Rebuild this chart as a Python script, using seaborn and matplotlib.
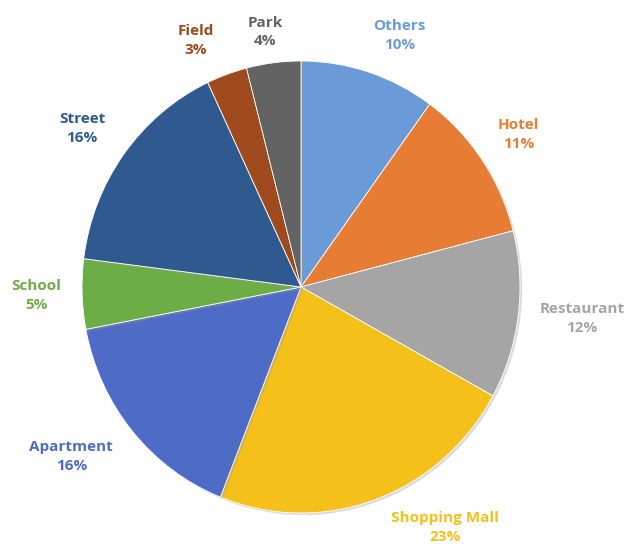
import numpy as np
import matplotlib
matplotlib.use("Agg")
import matplotlib.pyplot as plt
import matplotlib.patheffects as pe
import seaborn as sns

# Share of locations (percent), clockwise from 12 o'clock
categories = ["Others", "Hotel", "Restaurant", "Shopping Mall", "Apartment",
              "School", "Street", "Field", "Park"]
shares = [10, 11, 12, 23, 16, 5, 16, 3, 4]
slice_colors = ["#6A9BD8", "#E77D35", "#A5A5A5", "#F6C01B", "#4E6CC6",
                "#6DAD45", "#2F5A8F", "#9E4A1C", "#636363"]

sns.set_theme(style="white")
plt.rcParams["font.family"] = ["Open Sans", "DejaVu Sans"]

fig = plt.figure(figsize=(6.25, 5.5), dpi=100)
ax = fig.add_axes([0, 0, 1, 1])
palette = sns.color_palette(slice_colors)

wedges, _ = ax.pie(shares, colors=palette, startangle=90, counterclock=False,
                   wedgeprops=dict(edgecolor="white", linewidth=0.6))
# soft shadow like the office-style original
for w in wedges:
    w.set_path_effects([pe.SimplePatchShadow(offset=(1.5, -1.5), shadow_rgbFace="#999999", alpha=0.35),
                        pe.Normal()])

# label placement: radial distance and angle tweak for each slice
label_r = [1.20, 1.20, 1.29, 1.25, 1.29, 1.21, 1.22, 1.19, 1.14]
label_shift = [-4, 0, 1, 12, -4, 0, 1, 4, 1]
for w, name, val, col, r, sh in zip(wedges, categories, shares, slice_colors,
                                    label_r, label_shift):
    mid = np.deg2rad((w.theta1 + w.theta2) / 2 + sh)
    ax.text(r * np.cos(mid), r * np.sin(mid), f"{name}\n{val}%",
            ha="center", va="center", color=col, fontsize=11,
            fontweight="bold", linespacing=1.45)

# pie is slightly taller than wide in the reference
ax.set_aspect("auto")
ax.set_xlim(-301 / 219, (625 - 301) / 219)
ax.set_ylim(-(550 - 287) / 226, 287 / 226)
ax.axis("off")

fig.savefig("out.png", dpi=100)
